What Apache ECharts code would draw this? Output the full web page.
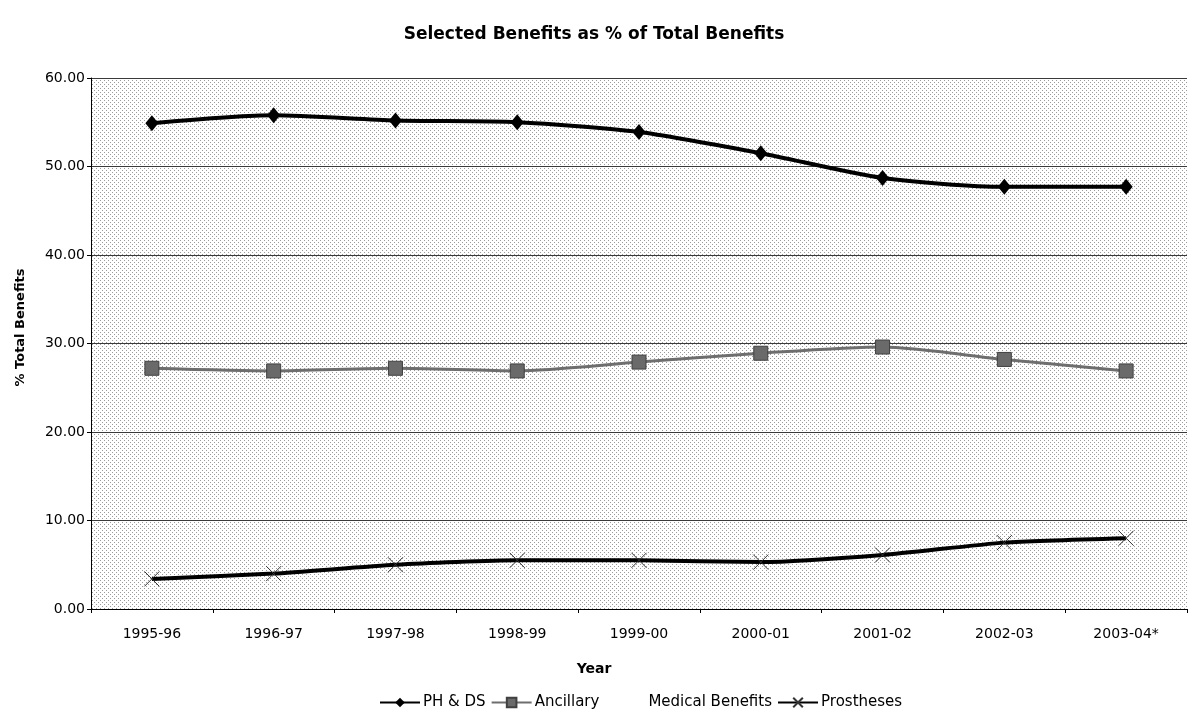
<!DOCTYPE html>
<html>
<head>
<meta charset="utf-8">
<script src="https://cdn.jsdelivr.net/npm/echarts@6/dist/echarts.min.js"></script>
<style>
  html, body { margin: 0; padding: 0; background: #fff; }
  #chart { width: 1188px; height: 716px; }
</style>
</head>
<body>
<div id="chart"></div>
<script>
// Financial years on the category axis
const years = ['1995-96', '1996-97', '1997-98', '1998-99', '1999-00', '2000-01', '2001-02', '2002-03', '2003-04*'];

// Share of total benefits, in per cent
const phDs       = [54.9, 55.8, 55.2, 55.0, 53.9, 51.5, 48.7, 47.7, 47.7];
const ancillary  = [27.2, 26.9, 27.2, 26.9, 27.9, 28.9, 29.6, 28.2, 26.9];
const medical    = [];
const prostheses = [3.4, 4.0, 5.0, 5.5, 5.5, 5.3, 6.1, 7.5, 8.0];

// Y axis: 0 to 60 in steps of 10
const yMin = 0, yMax = 60, yStep = 10;

// Stippled plot-area fill
function stipple() {
  const c = document.createElement('canvas');
  c.width = 4; c.height = 4;
  const g = c.getContext('2d');
  g.fillStyle = '#ffffff';
  g.fillRect(0, 0, 4, 4);
  g.fillStyle = '#9a9a9a';
  g.fillRect(0, 0, 1, 1);
  g.fillRect(2, 2, 1, 1);
  return c;
}

const chart = echarts.init(document.getElementById('chart'), null, { renderer: 'canvas' });
const font = '"DejaVu Sans", Verdana, sans-serif';

chart.setOption({
  backgroundColor: '#ffffff',
  animation: false,
  title: {
    text: 'Selected Benefits as % of Total Benefits',
    left: 'center',
    top: 21,
    textStyle: { fontFamily: font, fontSize: 17, fontWeight: 'bold', color: '#000' }
  },
  legend: {
    bottom: 1,
    left: 374,
    itemGap: 5,
    itemWidth: 40,
    itemHeight: 12,
    textStyle: { fontFamily: font, fontSize: 15, color: '#000', padding: [0, 0, 0, -2] },
    data: ['PH & DS', 'Ancillary', 'Medical Benefits', 'Prostheses']
  },
  grid: {
    left: 91, right: 1, top: 78, bottom: 107,
    show: true,
    borderWidth: 0,
    backgroundColor: { image: stipple(), repeat: 'repeat' }
  },
  xAxis: {
    type: 'category',
    data: years,
    boundaryGap: true,
    name: 'Year',
    nameLocation: 'middle',
    nameGap: 53,
    nameTextStyle: { fontFamily: font, fontSize: 14, fontWeight: 'bold', color: '#000',
      padding: [0, 90, 0, 0] },
    axisLine: { lineStyle: { color: '#000', width: 1 } },
    axisTick: { show: true, alignWithLabel: false, length: 4, lineStyle: { color: '#000' } },
    axisLabel: { fontFamily: font, fontSize: 14, color: '#000', margin: 18 }
  },
  yAxis: {
    type: 'value',
    min: yMin, max: yMax, interval: yStep,
    name: '% Total Benefits',
    nameLocation: 'middle',
    nameGap: 64,
    nameTextStyle: { fontFamily: font, fontSize: 13, fontWeight: 'bold', color: '#000',
      padding: [0, 0, 0, 32] },
    axisLine: { show: true, lineStyle: { color: '#000', width: 1 } },
    axisTick: { show: true, length: 4, lineStyle: { color: '#000' } },
    axisLabel: { fontFamily: font, fontSize: 14, color: '#000', margin: 6,
      formatter: v => v.toFixed(2) },
    splitLine: { show: true, lineStyle: { color: '#3a3a3a', width: 1 } }
  },
  series: [
    {
      name: 'PH & DS',
      type: 'line',
      data: phDs,
      smooth: 0.25,
      symbol: 'diamond',
      symbolSize: [13, 16],
      lineStyle: { color: '#000', width: 4 },
      itemStyle: { color: '#000' },
      z: 4
    },
    {
      name: 'Ancillary',
      type: 'line',
      data: ancillary,
      smooth: 0.25,
      symbol: 'rect',
      symbolSize: 14,
      lineStyle: { color: '#6e6e6e', width: 3 },
      itemStyle: { color: '#6a6a6a', borderColor: '#404040', borderWidth: 1 },
      z: 3
    },
    {
      name: 'Medical Benefits',
      type: 'line',
      data: medical,
      symbol: 'none',
      lineStyle: { color: '#ffffff', width: 3 },
      itemStyle: { color: '#ffffff' },
      z: 2
    },
    {
      name: 'Prostheses',
      type: 'line',
      data: prostheses,
      smooth: 0.2,
      symbol: 'path://M0,0 L10,10 M10,0 L0,10',
      symbolSize: 15,
      lineStyle: { color: '#000', width: 4 },
      itemStyle: { color: '#000', borderColor: '#333', borderWidth: 1 },
      z: 4
    }
  ]
});
</script>
</body>
</html>
